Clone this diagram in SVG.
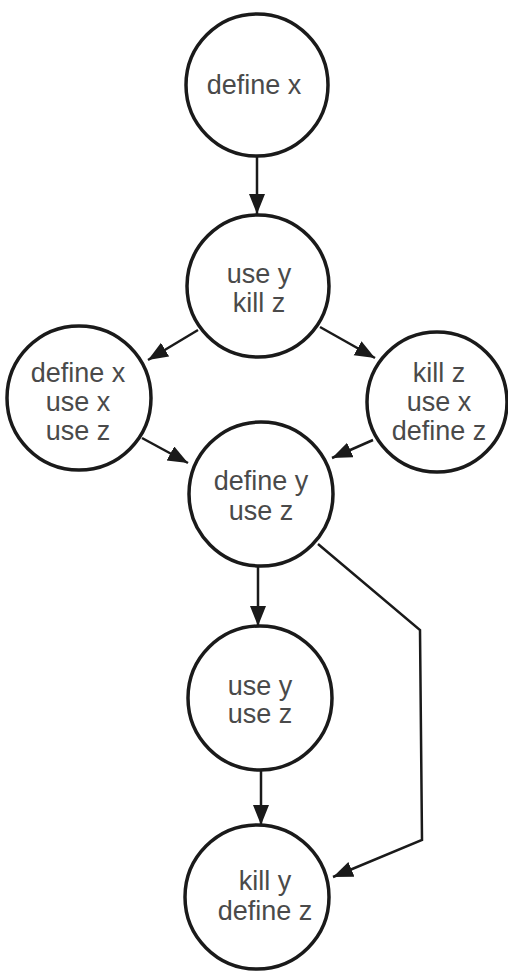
<svg xmlns="http://www.w3.org/2000/svg" width="508" height="972" viewBox="0 0 508 972">
<style>
.node circle{fill:#fff;stroke:#1a1a1a;stroke-width:3.5}
.node text{font-family:"Liberation Sans",Arial,sans-serif;font-size:27px;fill:#4a4a4a;text-anchor:middle}
.edges path,.edges line{fill:none;stroke:#1a1a1a;stroke-width:2.5}
</style>
<defs>
<marker id="ah" markerUnits="userSpaceOnUse" markerWidth="22" markerHeight="18" refX="20" refY="8" orient="auto">
<path d="M0,0 L20,8 L0,16 Z" fill="#1a1a1a"/>
</marker>
</defs>
<rect width="508" height="972" fill="#fff"/>
<g class="edges">
<line x1="257" y1="157" x2="257" y2="214" marker-end="url(#ah)"/>
<line x1="198" y1="330" x2="148" y2="360" marker-end="url(#ah)"/>
<line x1="320" y1="327" x2="375" y2="358" marker-end="url(#ah)"/>
<line x1="142" y1="438" x2="188" y2="463" marker-end="url(#ah)"/>
<line x1="373" y1="440" x2="332" y2="458" marker-end="url(#ah)"/>
<line x1="258" y1="567" x2="258" y2="626" marker-end="url(#ah)"/>
<line x1="261" y1="771" x2="261" y2="825" marker-end="url(#ah)"/>
<path d="M318,544 L420,630 L422,840 L333,877" marker-end="url(#ah)"/>
</g>
<g id="n1" class="node"><circle cx="257" cy="85" r="71"/><text x="254" y="94">define x</text></g>
<g id="n2" class="node"><circle cx="258" cy="286" r="71"/><text x="259" y="283">use y</text><text x="259" y="312">kill z</text></g>
<g id="n3" class="node"><circle cx="79" cy="398" r="72"/><text x="78" y="382">define x</text><text x="78" y="411">use x</text><text x="78" y="440">use z</text></g>
<g id="n4" class="node"><circle cx="437" cy="402" r="70"/><text x="439" y="382">kill z</text><text x="439" y="411">use x</text><text x="439" y="440">define z</text></g>
<g id="n5" class="node"><circle cx="261" cy="494" r="72"/><text x="261" y="490">define y</text><text x="261" y="520">use z</text></g>
<g id="n6" class="node"><circle cx="260" cy="698" r="72"/><text x="260" y="695">use y</text><text x="260" y="723">use z</text></g>
<g id="n7" class="node"><circle cx="257" cy="897" r="72"/><text x="265" y="890">kill y</text><text x="265" y="920">define z</text></g>
</svg>
